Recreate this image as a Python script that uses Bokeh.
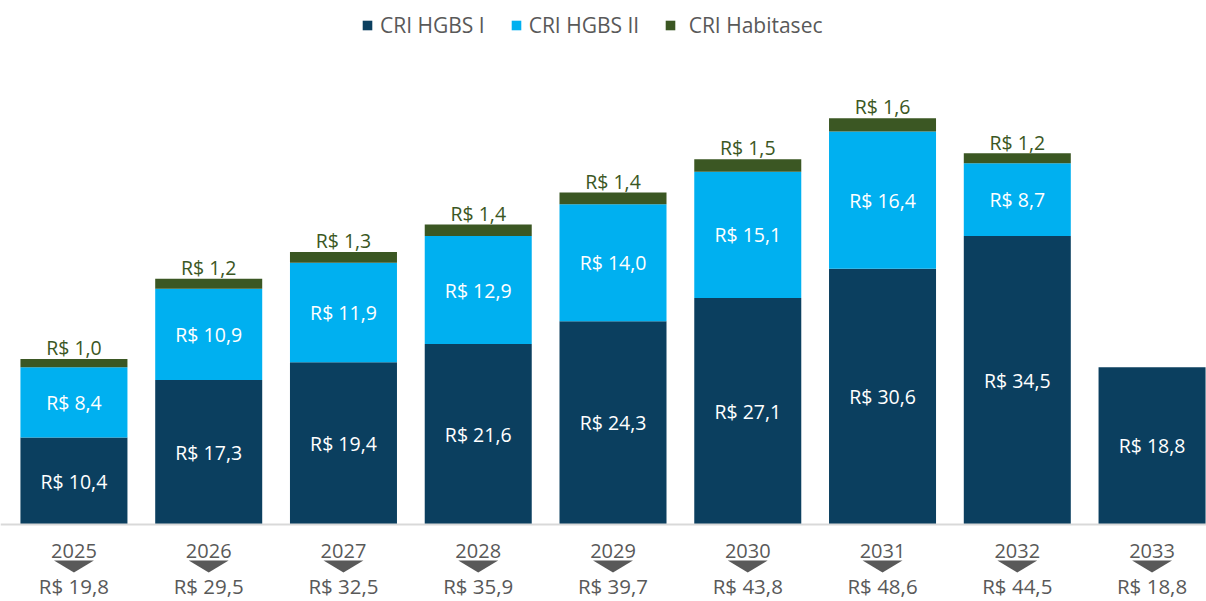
from bokeh.plotting import figure
from bokeh.models import ColumnDataSource, Legend, LegendItem, Span
from bokeh.core.properties import value
from bokeh.embed import file_html
from bokeh.resources import INLINE

years = ["2025", "2026", "2027", "2028", "2029", "2030", "2031", "2032", "2033"]
hgbs1 = [10.4, 17.3, 19.4, 21.6, 24.3, 27.1, 30.6, 34.5, 18.8]
hgbs2 = [8.4, 10.9, 11.9, 12.9, 14.0, 15.1, 16.4, 8.7, 0.0]
habitasec = [1.0, 1.2, 1.3, 1.4, 1.4, 1.5, 1.6, 1.2, 0.0]
totals = [19.8, 29.5, 32.5, 35.9, 39.7, 43.8, 48.6, 44.5, 18.8]

C1 = "#0b3f5f"
C2 = "#00b0f0"
C3 = "#3b5723"
GRAY = "#595959"
FONT = "Open Sans"


def fmt(v):
    return "R$ " + f"{v:.1f}".replace(".", ",")


xs = list(range(len(years)))
src = ColumnDataSource(dict(x=xs, hgbs1=hgbs1, hgbs2=hgbs2, habitasec=habitasec))

p = figure(width=1206, height=601, output_backend="svg", toolbar_location=None,
           x_range=(-0.545, 8.404), y_range=(-9.21, 62.68),
           min_border=0, min_border_left=0, min_border_right=0,
           min_border_top=0, min_border_bottom=0)
p.axis.visible = False
p.grid.visible = False
p.outline_line_color = None
p.background_fill_color = "white"

rs = p.vbar_stack(["hgbs1", "hgbs2", "habitasec"], x="x", width=0.794,
                  color=[C1, C2, C3], line_color=None, source=src)

# baseline
p.add_layout(Span(location=0, dimension="width", line_color="#d9d9d9", line_width=2))

# segment labels
l1x, l1y, l1t = [], [], []
l2x, l2y, l2t = [], [], []
l3x, l3y, l3t = [], [], []
for i in xs:
    a, b, c = hgbs1[i], hgbs2[i], habitasec[i]
    if a > 0:
        l1x.append(i); l1y.append(a / 2); l1t.append(fmt(a))
    if b > 0:
        l2x.append(i); l2y.append(a + b / 2); l2t.append(fmt(b))
    if c > 0:
        l3x.append(i); l3y.append(a + b + c + 1.35); l3t.append(fmt(c))

LBL = "19.5px"
p.text(x=l1x, y=l1y, text=l1t, text_color="white", text_font=value(FONT),
       text_font_size=LBL, text_align="center", text_baseline="middle")
p.text(x=l2x, y=l2y, text=l2t, text_color="white", text_font=value(FONT),
       text_font_size=LBL, text_align="center", text_baseline="middle")
p.text(x=l3x, y=l3y, text=l3t, text_color=C3, text_font=value(FONT),
       text_font_size=LBL, text_align="center", text_baseline="middle")

# year labels, arrows, totals
p.text(x=xs, y=[-3.11] * len(xs), text=years, text_color=GRAY, text_font=value(FONT),
       text_font_size="20px", text_align="center", text_baseline="middle")
tri_xs = [[i - 0.148, i + 0.148, i] for i in xs]
tri_ys = [[-4.31, -4.31, -5.74] for _ in xs]
p.patches(tri_xs, tri_ys, fill_color=GRAY, line_color=None)
p.text(x=xs, y=[-7.35] * len(xs), text=[fmt(t) for t in totals], text_color=GRAY,
       text_font=value(FONT), text_font_size="20.5px", text_align="center",
       text_baseline="middle")

legend = Legend(items=[LegendItem(label="CRI HGBS I", renderers=[rs[0]]),
                       LegendItem(label="CRI HGBS II", renderers=[rs[1]]),
                       LegendItem(label=" CRI Habitasec", renderers=[rs[2]])],
                orientation="horizontal", location=(361, 562),
                label_text_font=FONT, label_text_font_size="21px",
                label_text_color=GRAY, glyph_width=12, glyph_height=12,
                spacing=25, label_standoff=7, padding=0, margin=0,
                background_fill_alpha=0, border_line_color=None)
p.add_layout(legend, "center")

open("out.html", "w").write(file_html(p, INLINE))
